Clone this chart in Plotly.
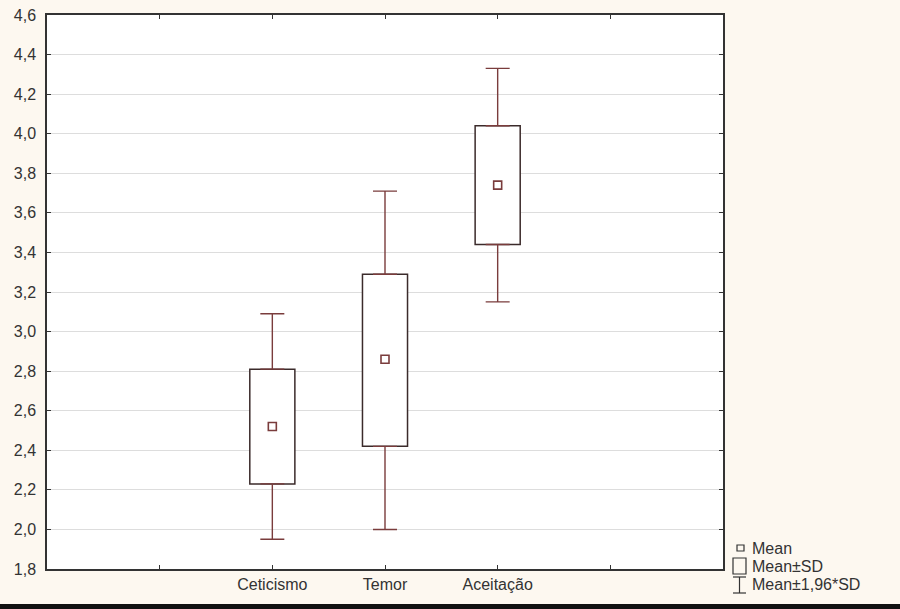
import plotly.graph_objects as go

#%% data (mean, mean±SD, mean±1.96*SD)
categories = ['Ceticismo', 'Temor', 'Aceitação']
positions = [2, 3, 4]
means = [2.52, 2.86, 3.74]
sd_low = [2.23, 2.42, 3.44]
sd_high = [2.81, 3.29, 4.04]
ci_low = [1.95, 2.00, 3.15]
ci_high = [3.09, 3.71, 4.33]

y_ticks = [1.8, 2.0, 2.2, 2.4, 2.6, 2.8, 3.0, 3.2, 3.4, 3.6, 3.8, 4.0, 4.2, 4.4, 4.6]
x_ticks = [1, 2, 3, 4, 5]
x_ticktext = [''] + categories + ['']

box_col = '#3b2b2b'
whisk_col = '#7a3c3c'
family = 'Arial, Liberation Sans, sans-serif'
W, H = 900, 609

#%% figure
fig = go.Figure()

# upper whiskers (from top of box to mean+1.96*SD)
fig.add_trace(go.Scatter(
    x=positions, y=sd_high, mode='markers', marker=dict(size=0.1, opacity=0),
    error_y=dict(type='data', symmetric=False,
                 array=[h - s for h, s in zip(ci_high, sd_high)],
                 arrayminus=[0, 0, 0], width=12, color=whisk_col, thickness=1.4),
    showlegend=False, hoverinfo='skip'))
# lower whiskers
fig.add_trace(go.Scatter(
    x=positions, y=sd_low, mode='markers', marker=dict(size=0.1, opacity=0),
    error_y=dict(type='data', symmetric=False,
                 array=[0, 0, 0],
                 arrayminus=[s - l for s, l in zip(sd_low, ci_low)],
                 width=12, color=whisk_col, thickness=1.4),
    showlegend=False, hoverinfo='skip'))

# boxes mean±SD
fig.add_trace(go.Bar(
    x=positions, y=[h - l for h, l in zip(sd_high, sd_low)], base=sd_low,
    width=0.4, marker=dict(color='white', line=dict(color=box_col, width=1.5)),
    showlegend=False, hoverinfo='skip'))

# means
fig.add_trace(go.Scatter(
    x=positions, y=means, mode='markers',
    marker=dict(symbol='square-open', size=8, color=whisk_col, line=dict(width=1.6)),
    showlegend=False))

#%% legend drawn by hand (Statistica style), paper = whole picture
def px_x(v):
    return v / W

def px_y(v):
    return 1 - v / H

legend_items = ['Mean', 'Mean±SD', 'Mean±1,96*SD']
legend_y = [548, 566, 584]
for txt, yy in zip(legend_items, legend_y):
    fig.add_annotation(x=px_x(750), y=px_y(yy), xref='paper', yref='paper', text=txt,
                       showarrow=False, xanchor='left', yanchor='middle',
                       font=dict(family=family, size=16, color='#333333'))

lc = dict(color='#333333', width=1.2)
fig.add_shape(type='rect', xref='paper', yref='paper', layer='above',
              x0=px_x(737), x1=px_x(744), y0=px_y(551), y1=px_y(545), line=lc)
fig.add_shape(type='rect', xref='paper', yref='paper', layer='above',
              x0=px_x(733), x1=px_x(746), y0=px_y(574), y1=px_y(558), line=lc)
fig.add_shape(type='line', xref='paper', yref='paper', layer='above',
              x0=px_x(739.5), x1=px_x(739.5), y0=px_y(593), y1=px_y(577), line=lc)
fig.add_shape(type='line', xref='paper', yref='paper', layer='above',
              x0=px_x(733), x1=px_x(746), y0=px_y(577), y1=px_y(577), line=lc)
fig.add_shape(type='line', xref='paper', yref='paper', layer='above',
              x0=px_x(733), x1=px_x(746), y0=px_y(593), y1=px_y(593), line=lc)
# dark band at the bottom edge of the picture
fig.add_shape(type='rect', xref='paper', yref='paper', layer='above',
              x0=0, x1=1, y0=0, y1=px_y(604), fillcolor='#111111', line=dict(width=0))

fig.update_layout(
    width=W, height=H,
    margin=dict(l=0, r=0, t=0, b=0, autoexpand=False),
    paper_bgcolor='#fdf8f0', plot_bgcolor='white',
    separators=',.',
    font=dict(family=family, size=16, color='#333333'),
    barmode='overlay',
    showlegend=False,
)
fig.update_xaxes(domain=[px_x(47), px_x(723)], range=[0, 6], automargin=False,
                 tickvals=x_ticks, ticktext=x_ticktext,
                 ticks='inside', ticklen=4, tickcolor='#333333', mirror='ticks',
                 showline=True, linecolor='#333333', linewidth=1.5, showgrid=False,
                 zeroline=False)
fig.update_yaxes(domain=[px_y(569), px_y(15)], range=[1.8, 4.6], automargin=False,
                 tickvals=y_ticks, tickformat='.1f', ticklabelstandoff=6,
                 ticks='inside', ticklen=4, tickcolor='#333333', mirror='ticks',
                 showline=True, linecolor='#333333', linewidth=1.5,
                 showgrid=True, gridcolor='#dddddd', gridwidth=1, zeroline=False)

fig.write_html("out.html", config={'displayModeBar': False},
               post_script="document.documentElement.style.overflow='hidden';"
                           "document.body.style.margin='0';"
                           "document.body.style.overflow='hidden';")
